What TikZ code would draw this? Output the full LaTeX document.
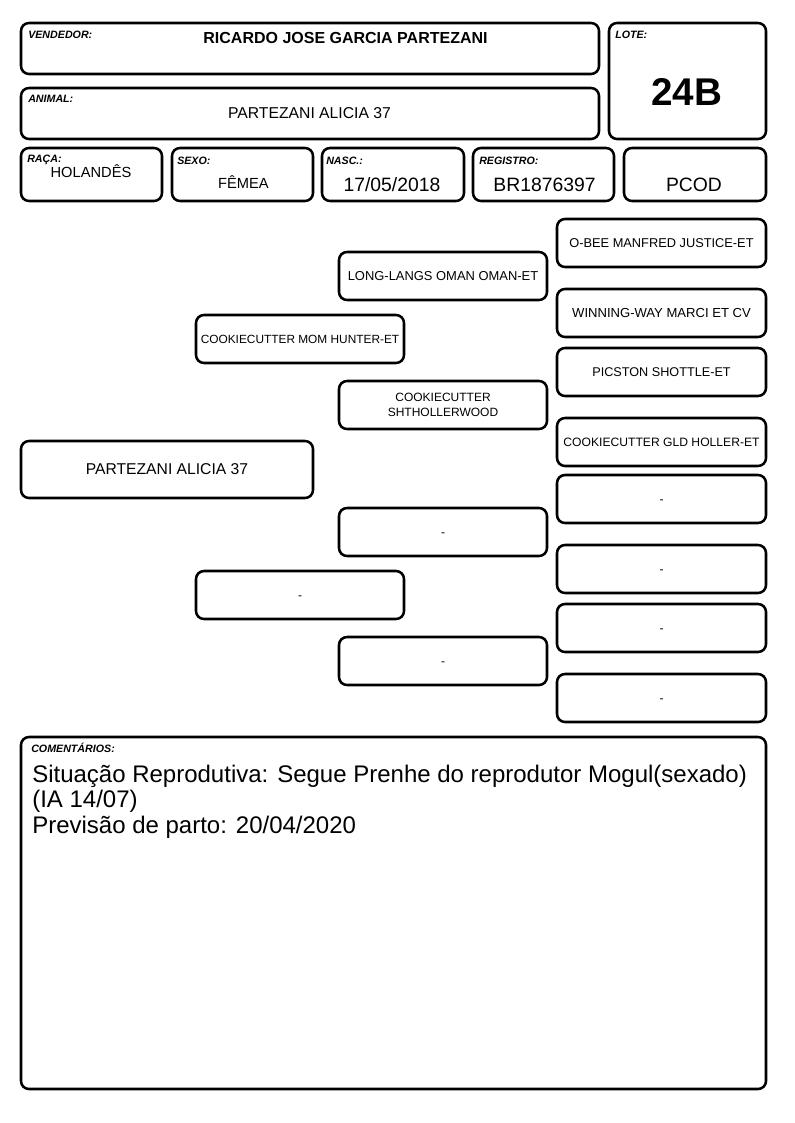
\documentclass[tikz,border=0pt]{standalone}
\usepackage{fontspec}
\setmainfont{Liberation Sans}
\usetikzlibrary{fit}
\tikzset{
  box/.style={draw, line width=1.9pt, rounded corners=6pt, inner sep=0pt},
  lbl/.style={font=\bfseries\itshape\fontsize{8}{9.5}\selectfont, inner sep=0pt, anchor=base west},
  val/.style={font=\fontsize{11}{13}\selectfont, inner sep=0pt, anchor=base},
  bigval/.style={font=\fontsize{14.5}{17}\selectfont, inner sep=0pt, anchor=base},
  pedtxt/.style={inner sep=0pt, align=center, font=\fontsize{#1}{11.5}\selectfont},
  pedtxt/.default=9,
  comtxt/.style={inner sep=0pt, anchor=base west, font=\fontsize{18}{20}\selectfont},
}
\newcommand{\nodash}{\vphantom{A}-}
\begin{document}
\begin{tikzpicture}[x=0.75pt,y=-0.75pt]
\useasboundingbox (0,0) rectangle (794,1123);
% header boxes
\node[box, fit={(21,23)(599,74)}] (vend) {};
\node[box, fit={(21,88)(599,139)}] (anim) {};
\node[box, fit={(609,23)(766,139)}] (lote) {};
\node[box, fit={(21,148)(162,201)}] (raca) {};
\node[box, fit={(172,148)(313,201)}] (sexo) {};
\node[box, fit={(322,148)(464,201)}] (nasc) {};
\node[box, fit={(473,148)(614,201)}] (reg) {};
\node[box, fit={(624,148)(766,201)}] (pcod) {};
% labels
\node[lbl] (lvend) at (28,39) {VENDEDOR:};
\node[lbl] (lanim) at (28,103) {ANIMAL:};
\node[lbl] (llote) at (615,38.5) {LOTE:};
\node[lbl] (lraca) at (27,163) {RAÇA:};
\node[lbl] (lsexo) at (177,165) {SEXO:};
\node[lbl] (lnasc) at (326,165) {NASC.:};
\node[lbl] (lreg) at (479,165) {REGISTRO:};
% values
\node[inner sep=0pt, anchor=base, font=\bfseries\fontsize{12}{14}\selectfont] (vvend) at (345.5,43.5) {RICARDO JOSE GARCIA PARTEZANI};
\node[inner sep=0pt, anchor=base, font=\fontsize{11.8}{14}\selectfont] (vanim) at (309.5,119) {PARTEZANI ALICIA 37};
\node[inner sep=0pt, anchor=base, font=\bfseries\fontsize{29}{33}\selectfont] (vlote) at (686.5,105.7) {24B};
\node[val] (vraca) at (91,177.7) {HOLANDÊS};
\node[val] (vsexo) at (243.5,189) {FÊMEA};
\node[bigval] (vnasc) at (392,192) {17/05/2018};
\node[bigval] (vreg) at (544.5,192) {BR1876397};
\node[bigval] (vpcod) at (694,192) {PCOD};
% pedigree column 1
\node[box, fit={(21,441)(313,498)}] (a) {};
\node[pedtxt=11.75] (ta) at (a.center) {PARTEZANI ALICIA 37};
% column 2
\node[box, fit={(196,315)(404,363)}] (s) {};
\node[pedtxt=8.9] (ts) at (s.center) {COOKIECUTTER MOM HUNTER-ET};
\node[box, fit={(196,571)(404,619)}] (d) {};
\node[pedtxt] (td) at (d.center) {\nodash};
% column 3
\node[box, fit={(339,252)(547,300)}] (ss) {};
\node[pedtxt=9.7] (tss) at (ss.center) {LONG-LANGS OMAN OMAN-ET};
\node[box, fit={(339,381)(547,429)}] (sd) {};
\node[pedtxt=9] (tsd) at (sd.center) {COOKIECUTTER\\SHTHOLLERWOOD};
\node[box, fit={(339,508)(547,556)}] (ds) {};
\node[pedtxt] (tds) at (ds.center) {\nodash};
\node[box, fit={(339,637)(547,685)}] (dd) {};
\node[pedtxt] (tdd) at (dd.center) {\nodash};
% column 4
\node[box, fit={(557,219)(766,267)}] (sss) {};
\node[pedtxt=9.6] (tsss) at (sss.center) {O-BEE MANFRED JUSTICE-ET};
\node[box, fit={(557,289)(766,337)}] (ssd) {};
\node[pedtxt=9.8] (tssd) at (ssd.center) {WINNING-WAY MARCI ET CV};
\node[box, fit={(557,348)(766,396)}] (sds) {};
\node[pedtxt=9.5] (tsds) at (sds.center) {PICSTON SHOTTLE-ET};
\node[box, fit={(557,418)(766,466)}] (sdd) {};
\node[pedtxt=9.1] (tsdd) at (sdd.center) {COOKIECUTTER GLD HOLLER-ET};
\node[box, fit={(557,475)(766,523)}] (dss) {};
\node[pedtxt] (tdss) at (dss.center) {\nodash};
\node[box, fit={(557,545)(766,593)}] (dsd) {};
\node[pedtxt] (tdsd) at (dsd.center) {\nodash};
\node[box, fit={(557,604)(766,652)}] (dds) {};
\node[pedtxt] (tdds) at (dds.center) {\nodash};
\node[box, fit={(557,674)(766,722)}] (ddd) {};
\node[pedtxt] (tddd) at (ddd.center) {\nodash};
% comments
\node[box, fit={(21,737)(766,1089)}] (com) {};
\node[lbl] (lcom) at (31,752.5) {COMENTÁRIOS:};
\node[comtxt] (tcom1) at (32,782) {Situação Reprodutiva: Segue Prenhe do reprodutor Mogul(sexado)};
\node[comtxt] (tcom2) at (32,807.5) {(IA 14/07)};
\node[comtxt] (tcom3) at (32,833) {Previsão de parto: 20/04/2020};
\end{tikzpicture}
\end{document}
